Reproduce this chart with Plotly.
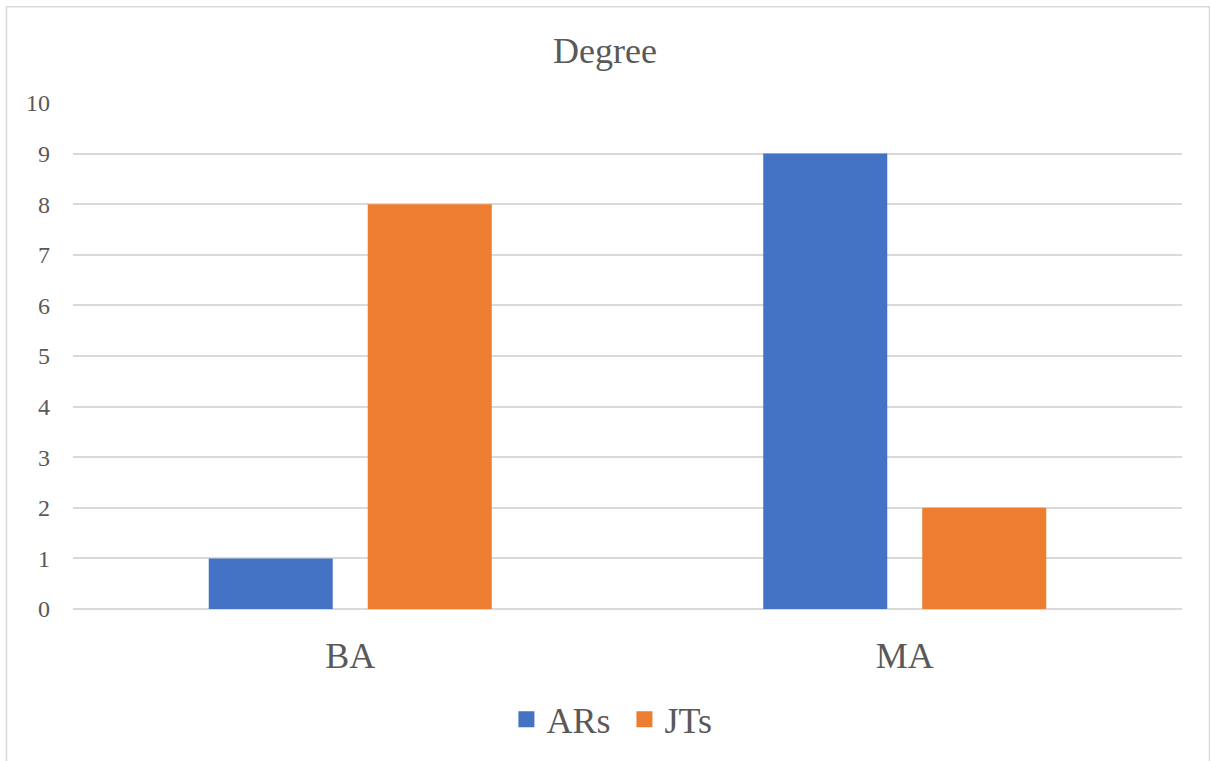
import plotly.graph_objects as go

# Degree counts per group
categories = ["BA", "MA"]
series_names = ["ARs", "JTs"]
ars_values = [1, 9]
jts_values = [8, 2]
y_ticks = list(range(0, 11))

colors = {"ARs": "#4472C4", "JTs": "#ED7D31"}
font_family = "Liberation Serif"
text_color = "#595959"
grid_color = "#D9D9D9"

fig = go.Figure()
for name, vals in zip(series_names, [ars_values, jts_values]):
    fig.add_trace(go.Bar(
        x=categories, y=vals, name=name,
        marker=dict(color=colors[name], line=dict(width=0)),
        showlegend=False, hoverinfo="y",
    ))
    # square legend swatches
    fig.add_trace(go.Scatter(
        x=[None], y=[None], mode="markers", name=name + " ",
        marker=dict(symbol="square", size=19, color=colors[name]),
        showlegend=True,
    ))

fig.update_layout(
    width=1210, height=761,
    margin=dict(l=73, r=28, t=103, b=152),
    paper_bgcolor="white", plot_bgcolor="white",
    font=dict(family=font_family, color=text_color),
    title=dict(text="Degree", x=0.5, xanchor="center", y=1 - 50 / 761,
               yanchor="middle", font=dict(family=font_family, size=36, color=text_color)),
    barmode="group", bargap=0.4265, bargroupgap=0.22,
    legend=dict(orientation="h", x=0.49, xanchor="center", y=-0.218,
                yanchor="middle", font=dict(family=font_family, size=36, color=text_color),
                itemsizing="trace", itemwidth=30, tracegroupgap=0),
    shapes=[dict(type="rect", xref="paper", yref="paper",
                 x0=-0.06, x1=1.0248, y0=-0.4, y1=1.19,
                 line=dict(color=grid_color, width=1.5), layer="below")],
)
fig.update_xaxes(showgrid=False, showline=False, ticks="",
                 tickfont=dict(family=font_family, size=36, color=text_color),
                 ticklabelstandoff=22)
fig.update_yaxes(range=[0, 10], tickvals=y_ticks, showgrid=True,
                 gridcolor=grid_color, gridwidth=1.5,
                 zeroline=True, zerolinecolor=grid_color, zerolinewidth=1.5,
                 showline=False, ticks="",
                 tickfont=dict(family=font_family, size=24, color=text_color),
                 ticklabelstandoff=22)

fig.write_html("out.html")
